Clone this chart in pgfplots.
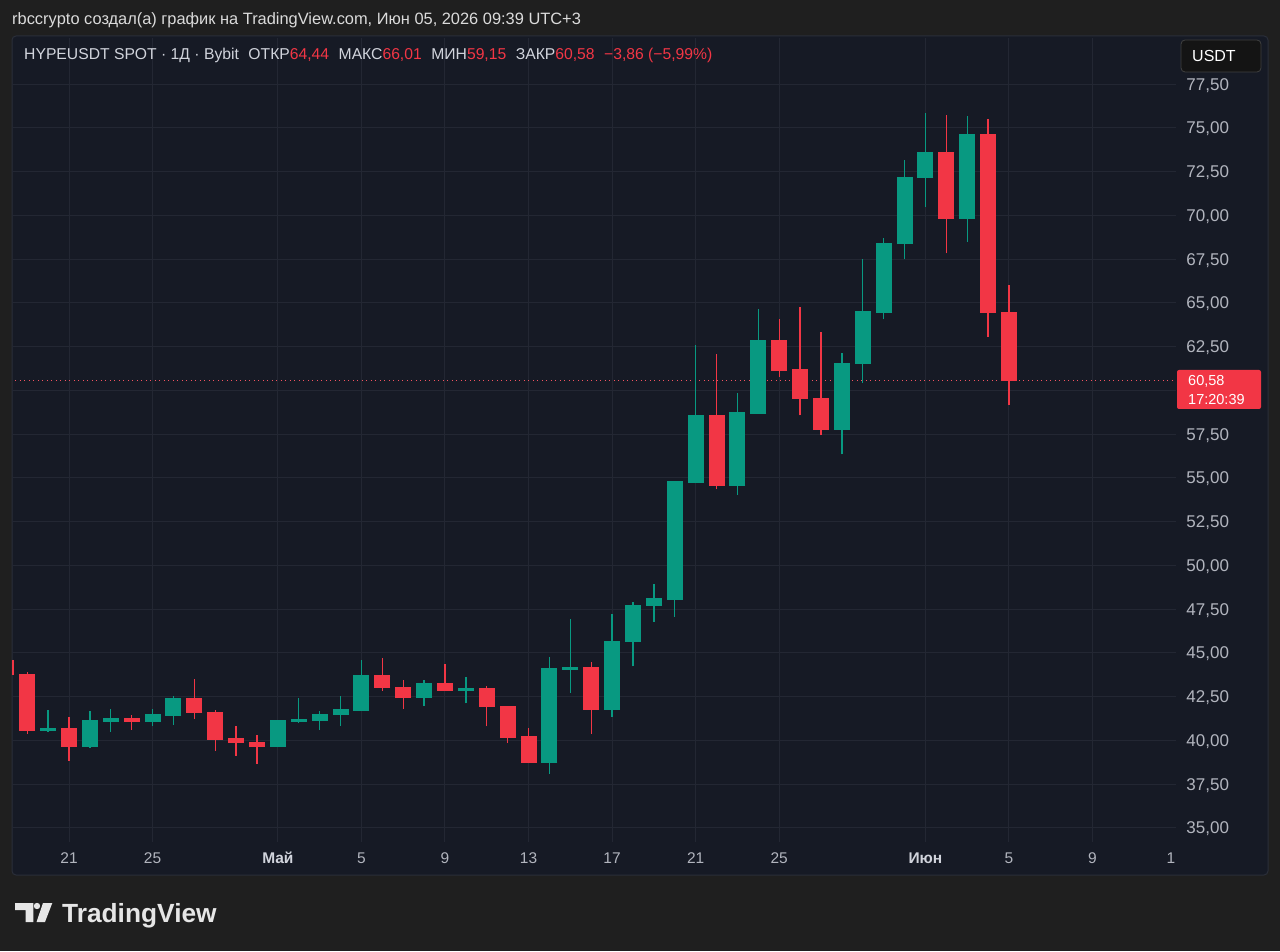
\documentclass[border=0pt]{standalone}
\usepackage{fontspec}
\setmainfont{Liberation Sans}
\usepackage{pgfplots}
\pgfplotsset{compat=1.18}
\definecolor{outerbg}{HTML}{1F1F1F}
\definecolor{panel}{HTML}{161A25}
\definecolor{panelborder}{HTML}{2A2E39}
\definecolor{gridc}{HTML}{232733}
\definecolor{up}{HTML}{089981}
\definecolor{dn}{HTML}{F23645}
\definecolor{lbl}{HTML}{B2B5BE}
\definecolor{hdr}{HTML}{DBDBDB}
\definecolor{infoc}{HTML}{D1D4DC}
\definecolor{logoc}{HTML}{E6E6E6}
% candle: day, open, high, low, close, colour
\newcommand\candle[6]{%
  \addplot[#6, line width=1.3pt] coordinates {(#1,#4) (#1,#3)};
  \addplot[#6, line width=16pt, line cap=butt, mark=-, mark size=8pt,
    mark options={line width=1.6pt, line cap=butt}] coordinates {(#1,#2) (#1,#5)};}
\begin{document}
\begin{tikzpicture}[x=1pt,y=1pt]
\fill[outerbg] (0,0) rectangle (1280,951);
\filldraw[fill=panel, draw=panelborder, line width=1pt, rounded corners=4pt] (12,76) rectangle (1268,915);
\begin{axis}[
  at={(12pt,109pt)}, anchor=south west, scale only axis,
  width=1164pt, height=804pt,
  xmin=-2.729, xmax=52.995, ymin=34.2, ymax=80.13,
  axis line style={draw=none}, major tick length=0pt,
  grid=major, major grid style={gridc, line width=1pt},
  ytick={35,37.5,40,42.5,45,47.5,50,52.5,55,57.5,62.5,65,67.5,70,72.5,75,77.5},
  extra y ticks={60}, extra y tick labels={},
  extra y tick style={grid=major, major grid style={gridc, line width=1pt}},
  scaled y ticks=false,
  yticklabel pos=right,
  yticklabel style={anchor=base west, xshift=7pt, yshift=-6pt, text=lbl,
    font=\fontsize{17}{19}\selectfont,
    /pgf/number format/.cd, fixed, fixed zerofill, precision=2, use comma, assume math mode=true},
  xtick={0,4,10,14,18,22,26,30,34,41,45,49},
  xticklabels={21,25,\textcolor{infoc}{\textbf{Май}},5,9,13,17,21,25,\textcolor{infoc}{\textbf{Июн}},5,9},
  xticklabel style={anchor=base, yshift=-21pt, text=lbl, font=\fontsize{15.5}{18}\selectfont},
]
\addplot[dn!85, line width=1pt, dash pattern=on 1pt off 3.5pt] coordinates {(-3,60.58) (53,60.58)};
\candle{-3}{44.61}{44.70}{43.70}{43.75}{dn}
\candle{-2}{43.75}{43.92}{40.38}{40.61}{dn}
\candle{-1}{40.61}{41.75}{40.51}{40.66}{up}
\candle{0}{40.66}{41.35}{38.85}{39.69}{dn}
\candle{1}{39.69}{41.69}{39.58}{41.12}{up}
\candle{2}{41.12}{41.81}{40.51}{41.24}{up}
\candle{3}{41.24}{41.46}{40.60}{41.08}{dn}
\candle{4}{41.08}{41.82}{40.80}{41.45}{up}
\candle{5}{41.45}{42.55}{40.89}{42.38}{up}
\candle{6}{42.38}{43.52}{41.24}{41.60}{dn}
\candle{7}{41.60}{41.75}{39.42}{40.09}{dn}
\candle{8}{40.09}{40.84}{39.12}{39.88}{dn}
\candle{9}{39.88}{40.32}{38.66}{39.65}{dn}
\candle{10}{39.65}{41.15}{39.60}{41.10}{up}
\candle{11}{41.10}{42.45}{41.01}{41.18}{up}
\candle{12}{41.18}{41.69}{40.61}{41.48}{up}
\candle{13}{41.48}{42.55}{40.84}{41.75}{up}
\candle{14}{41.75}{44.57}{41.70}{43.68}{up}
\candle{15}{43.68}{44.73}{42.85}{43.02}{dn}
\candle{16}{43.02}{43.47}{41.81}{42.45}{dn}
\candle{17}{42.45}{43.47}{41.98}{43.24}{up}
\candle{18}{43.24}{44.35}{42.85}{42.87}{dn}
\candle{19}{42.90}{43.65}{42.12}{42.95}{up}
\candle{20}{42.95}{43.12}{40.80}{41.94}{dn}
\candle{21}{41.94}{41.96}{39.85}{40.21}{dn}
\candle{22}{40.21}{40.70}{38.69}{38.74}{dn}
\candle{23}{38.74}{44.75}{38.09}{44.10}{up}
\candle{24}{44.10}{46.96}{42.72}{44.16}{up}
\candle{25}{44.16}{44.47}{40.38}{41.78}{dn}
\candle{26}{41.78}{47.24}{41.33}{45.65}{up}
\candle{27}{45.65}{47.90}{44.23}{47.71}{up}
\candle{28}{47.71}{48.96}{46.79}{48.07}{up}
\candle{29}{48.07}{54.80}{47.08}{54.77}{up}
\candle{30}{54.77}{62.60}{54.70}{58.57}{up}
\candle{31}{58.57}{62.06}{54.34}{54.57}{dn}
\candle{32}{54.57}{59.86}{54.05}{58.72}{up}
\candle{33}{58.72}{64.67}{58.70}{62.82}{up}
\candle{34}{62.82}{64.06}{60.78}{61.16}{dn}
\candle{35}{61.16}{64.78}{58.57}{59.54}{dn}
\candle{36}{59.54}{63.36}{57.44}{57.77}{dn}
\candle{37}{57.77}{62.16}{56.34}{61.54}{up}
\candle{38}{61.54}{67.53}{60.43}{64.48}{up}
\candle{39}{64.48}{68.72}{64.06}{68.39}{up}
\candle{40}{68.39}{73.18}{67.49}{72.17}{up}
\candle{41}{72.17}{75.85}{70.45}{73.60}{up}
\candle{42}{73.60}{75.73}{67.82}{69.82}{dn}
\candle{43}{69.82}{75.66}{68.48}{74.59}{up}
\candle{44}{74.59}{75.50}{63.05}{64.44}{dn}
\candle{45}{64.44}{66.01}{59.15}{60.58}{dn}
\end{axis}
% header
\node[anchor=base west, inner sep=0, text=hdr, font=\fontsize{16.4}{18}\selectfont] at (12,926) {rbccrypto создал(а) график на TradingView.com, Июн 05, 2026 09:39 UTC+3};
\node[anchor=base west, inner sep=0, font=\fontsize{15.7}{18}\selectfont] at (24,891)
 {\textcolor{infoc}{HYPEUSDT SPOT · 1Д · Bybit}\hspace{9.5pt}\textcolor{infoc}{ОТКР}\textcolor{dn}{64,44}\hspace{9.5pt}\textcolor{infoc}{МАКС}\textcolor{dn}{66,01}\hspace{9.5pt}\textcolor{infoc}{МИН}\textcolor{dn}{59,15}\hspace{9.5pt}\textcolor{infoc}{ЗАКР}\textcolor{dn}{60,58}\hspace{9.5pt}\textcolor{dn}{−3,86 (−5,99\%)}};
% last date label partly hidden
\node[anchor=base, inner sep=0, text=lbl, font=\fontsize{15.5}{18}\selectfont] at (1171,88) {1};
% USDT box
\filldraw[fill=black!92, draw=black!75, line width=0.8pt, rounded corners=4pt] (1181,879) rectangle (1261,911);
\node[anchor=base west, inner sep=0, text=white, font=\fontsize{16}{18}\selectfont] at (1192,889) {USDT};
% last price label
\fill[dn, rounded corners=2pt] (1177,542) rectangle (1261,581);
\node[anchor=base west, inner sep=0, text=white, font=\fontsize{14.5}{15}\selectfont] at (1188,565.5) {60,58};
\node[anchor=base west, inner sep=0, text=white, font=\fontsize{14.5}{15}\selectfont] at (1188,546.5) {17:20:39};
% logo
\fill[logoc] (15,48) -- (33.3,48) -- (33.3,29) -- (25.5,29) -- (25.5,41) -- (15,41) -- cycle;
\fill[logoc] (37,45) circle (3.2);
\fill[logoc] (43,48) -- (52.3,48) -- (45,29) -- (36.5,29) -- cycle;
\node[anchor=base west, inner sep=0, text=logoc, font=\fontsize{26.3}{28}\selectfont\bfseries] at (62,29) {TradingView};
\pgfresetboundingbox
\useasboundingbox (0,0) rectangle (1280,951);
\end{tikzpicture}
\end{document}
